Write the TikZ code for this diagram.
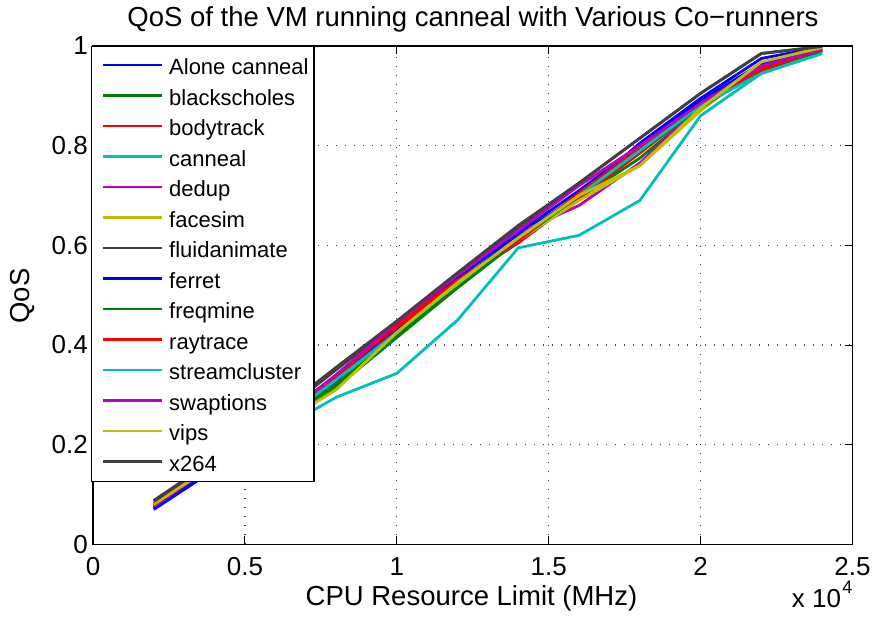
\documentclass[tikz,border=0pt]{standalone}
\usepackage{fontspec}
\setmainfont{Liberation Sans}
\definecolor{mblue}{rgb}{0,0,1}
\definecolor{mgreen}{rgb}{0,0.5,0}
\definecolor{mred}{rgb}{1,0,0}
\definecolor{mcyan}{rgb}{0,0.75,0.75}
\definecolor{mmag}{rgb}{0.75,0,0.75}
\definecolor{myel}{rgb}{0.75,0.75,0}
\definecolor{mgray}{rgb}{0.25,0.25,0.25}
\tikzset{
  dataline/.style={line width=2.8pt, line join=round},
  gridline/.style={black!75, line width=1.2pt, dash pattern=on 1.4pt off 7.6pt},
  axisline/.style={black, line width=1.6pt},
  tickline/.style={black, line width=0.9pt},
  ticklabel/.style={inner sep=0pt, font=\fontsize{26}{30}\selectfont},
  biglabel/.style={inner sep=0pt, font=\fontsize{27.5}{32}\selectfont},
  legtext/.style={inner sep=0pt, anchor=base west, font=\fontsize{22}{26}\selectfont},
  legline/.style={line width=2.8pt},
}
\begin{document}
\begin{tikzpicture}[x=1pt,y=1pt]
\useasboundingbox (0,0) rectangle (877,618);
\begin{scope}[shift={(93pt,73.7pt)}, x=303.8pt, y=498.3pt]
  % grid
  \foreach \gx in {0.5,1,1.5,2} \draw[gridline] (\gx,0) -- (\gx,1);
  \foreach \gy in {0.2,0.4,0.6,0.8} \draw[gridline] (0,\gy) -- (2.5,\gy);
  % data
  \draw[dataline, mblue] plot coordinates {(0.2,0.070) (0.4,0.150) (0.6,0.235) (0.8,0.325) (1.0,0.430) (1.2,0.525) (1.4,0.620) (1.6,0.700) (1.8,0.805) (2.0,0.895) (2.2,0.975) (2.4,0.998)};
  \draw[dataline, mgreen] plot coordinates {(0.2,0.078) (0.4,0.155) (0.6,0.235) (0.8,0.315) (1.0,0.415) (1.2,0.515) (1.4,0.610) (1.6,0.695) (1.8,0.775) (2.0,0.875) (2.2,0.955) (2.4,0.990)};
  \draw[dataline, mred] plot coordinates {(0.2,0.080) (0.4,0.165) (0.6,0.245) (0.8,0.335) (1.0,0.435) (1.2,0.525) (1.4,0.605) (1.6,0.695) (1.8,0.785) (2.0,0.880) (2.2,0.950) (2.4,0.992)};
  \draw[dataline, mcyan] plot coordinates {(0.2,0.080) (0.4,0.160) (0.6,0.225) (0.8,0.295) (1.0,0.343) (1.2,0.450) (1.4,0.595) (1.6,0.620) (1.8,0.690) (2.0,0.860) (2.2,0.945) (2.4,0.985)};
  \draw[dataline, mmag] plot coordinates {(0.2,0.075) (0.4,0.160) (0.6,0.245) (0.8,0.340) (1.0,0.440) (1.2,0.535) (1.4,0.625) (1.6,0.680) (1.8,0.765) (2.0,0.880) (2.2,0.960) (2.4,0.992)};
  \draw[dataline, myel] plot coordinates {(0.2,0.082) (0.4,0.160) (0.6,0.240) (0.8,0.320) (1.0,0.425) (1.2,0.520) (1.4,0.610) (1.6,0.690) (1.8,0.760) (2.0,0.870) (2.2,0.965) (2.4,0.997)};
  \draw[dataline, mgray] plot coordinates {(0.2,0.088) (0.4,0.170) (0.6,0.255) (0.8,0.350) (1.0,0.445) (1.2,0.540) (1.4,0.635) (1.6,0.725) (1.8,0.815) (2.0,0.905) (2.2,0.985) (2.4,0.999)};
  \draw[dataline, mblue] plot coordinates {(0.2,0.072) (0.4,0.155) (0.6,0.240) (0.8,0.330) (1.0,0.440) (1.2,0.535) (1.4,0.625) (1.6,0.710) (1.8,0.800) (2.0,0.890) (2.2,0.965) (2.4,0.995)};
  \draw[dataline, mgreen] plot coordinates {(0.2,0.080) (0.4,0.160) (0.6,0.240) (0.8,0.320) (1.0,0.420) (1.2,0.515) (1.4,0.610) (1.6,0.700) (1.8,0.790) (2.0,0.875) (2.2,0.955) (2.4,0.990)};
  \draw[dataline, mred] plot coordinates {(0.2,0.082) (0.4,0.165) (0.6,0.245) (0.8,0.335) (1.0,0.440) (1.2,0.530) (1.4,0.610) (1.6,0.705) (1.8,0.795) (2.0,0.880) (2.2,0.955) (2.4,0.993)};
  \draw[dataline, mcyan] plot coordinates {(0.2,0.078) (0.4,0.160) (0.6,0.240) (0.8,0.330) (1.0,0.425) (1.2,0.525) (1.4,0.615) (1.6,0.700) (1.8,0.790) (2.0,0.880) (2.2,0.945) (2.4,0.985)};
  \draw[dataline, mmag] plot coordinates {(0.2,0.076) (0.4,0.160) (0.6,0.245) (0.8,0.340) (1.0,0.445) (1.2,0.540) (1.4,0.630) (1.6,0.720) (1.8,0.800) (2.0,0.885) (2.2,0.960) (2.4,0.993)};
  \draw[dataline, myel] plot coordinates {(0.2,0.080) (0.4,0.160) (0.6,0.235) (0.8,0.310) (1.0,0.425) (1.2,0.525) (1.4,0.615) (1.6,0.700) (1.8,0.760) (2.0,0.875) (2.2,0.968) (2.4,0.997)};
  \draw[dataline, mgray] plot coordinates {(0.2,0.086) (0.4,0.170) (0.6,0.260) (0.8,0.355) (1.0,0.448) (1.2,0.545) (1.4,0.640) (1.6,0.725) (1.8,0.815) (2.0,0.905) (2.2,0.985) (2.4,0.999)};
  % axes box and ticks
  \draw[axisline] (0,0) rectangle (2.5,1);
  \foreach \gx in {0.5,1,1.5,2} {
    \draw[tickline] (\gx,0) -- ++(0,8pt);
    \draw[tickline] (\gx,1) -- ++(0,-8pt);
  }
  \foreach \gy in {0.2,0.4,0.6,0.8} {
    \draw[tickline] (0,\gy) -- ++(8pt,0);
    \draw[tickline] (2.5,\gy) -- ++(-8pt,0);
  }
  % tick labels
  \foreach \gx/\lab [count=\i] in {0/0,0.5/0.5,1/1,1.5/1.5,2/2,2.5/2.5}
    \node[ticklabel, anchor=base] (xt\i) at (\gx,-0.0636) {\lab};
  \foreach \gy/\lab [count=\i] in {0/0,0.2/0.2,0.4/0.4,0.6/0.6,0.8/0.8,1/1}
    \node[ticklabel, anchor=east] (yt\i) at (-0.0165,\gy) {\lab};
\end{scope}
% labels
\node[biglabel, anchor=base] (title) at (473,591) {QoS of the VM running canneal with Various Co−runners};
\node[biglabel, anchor=base] (xlab) at (471.5,12.3) {CPU Resource Limit (MHz)};
\node[biglabel, rotate=90] (ylab) at (22,322) {QoS};
\node[ticklabel, anchor=base west] (xmult) at (791.7,10.3) {x 10};
\node[inner sep=0pt, anchor=base west, font=\fontsize{18}{20}\selectfont] (xexp) at ([xshift=1pt]xmult.base east) [yshift=14pt] {4};
% legend
\draw[fill=white, draw=black, line width=1.4pt] (91.7,571.3) rectangle (314,136.5);
\foreach \nm/\col [count=\i from 0] in {Alone canneal/mblue, blackscholes/mgreen, bodytrack/mred, canneal/mcyan, dedup/mmag, facesim/myel, fluidanimate/mgray, ferret/mblue, freqmine/mgreen, raytrace/mred, streamcluster/mcyan, swaptions/mmag, vips/myel, x264/mgray} {
  \pgfmathsetmacro{\ly}{553-30.5*\i}
  \coordinate (la\i) at (103,\ly);
  \coordinate (lb\i) at (162,\ly);
  \draw[legline, \col] (la\i) -- (lb\i);
  \node[legtext] (lt\i) at (169,\ly-10) {\nm};
}
\end{tikzpicture}
\end{document}
